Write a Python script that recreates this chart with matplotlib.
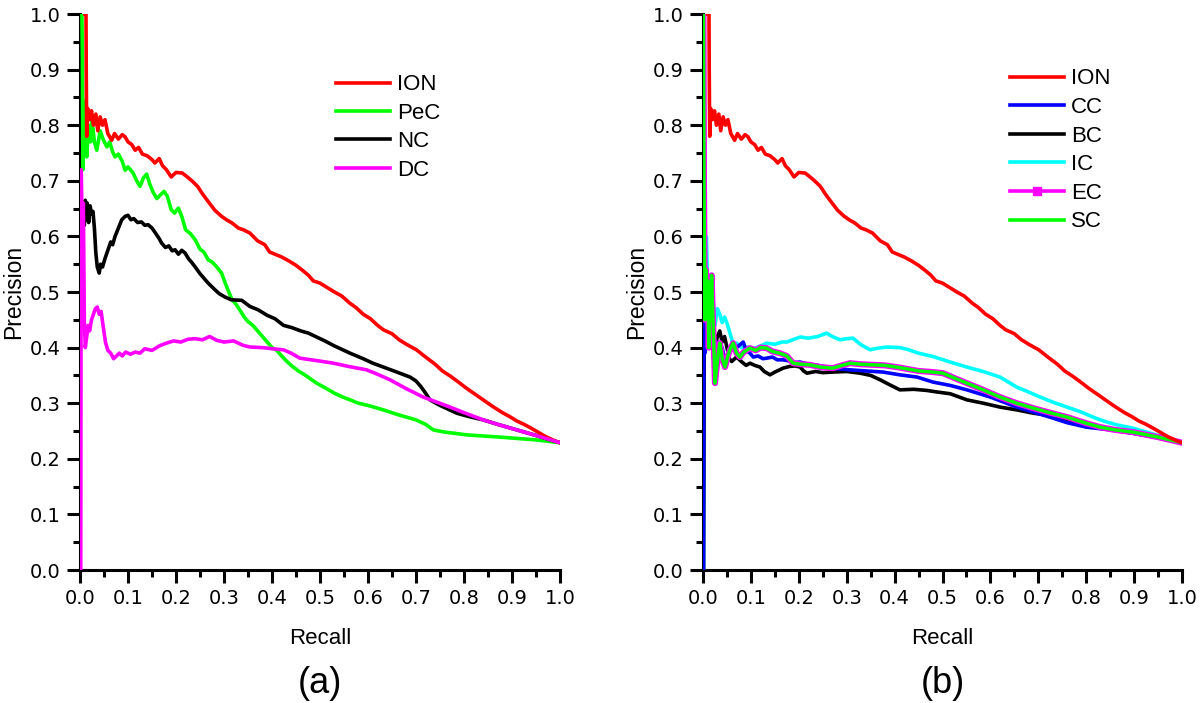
import matplotlib
matplotlib.use("Agg")
import matplotlib.pyplot as plt
from matplotlib.lines import Line2D

plt.rcParams['font.family'] = ['Liberation Sans', 'DejaVu Sans']

# ---------------- data ----------------
ion_r = [0.010, 0.0125, 0.013, 0.014, 0.016, 0.020, 0.024, 0.028, 0.033, 0.037, 0.042, 0.047, 0.052, 0.058,
         0.066, 0.072, 0.080, 0.088, 0.094, 0.100, 0.108, 0.115, 0.122, 0.130, 0.140, 0.150, 0.156, 0.165,
         0.172, 0.180, 0.190, 0.200, 0.213, 0.222, 0.233, 0.245, 0.254, 0.265, 0.281, 0.295, 0.305, 0.317,
         0.330, 0.340, 0.354, 0.370, 0.385, 0.395, 0.406, 0.420, 0.435, 0.450, 0.465, 0.476, 0.486, 0.500,
         0.515, 0.530, 0.545, 0.562, 0.575, 0.590, 0.605, 0.620, 0.632, 0.650, 0.665, 0.680, 0.701, 0.720,
         0.740, 0.755, 0.771, 0.790, 0.805, 0.820, 0.840, 0.860, 0.880, 0.895, 0.910, 0.925, 0.940, 0.958,
         0.970, 0.980, 0.990, 1.000]
ion_p = [1.000, 1.000, 0.900, 0.780, 0.830, 0.810, 0.826, 0.800, 0.820, 0.790, 0.815, 0.800, 0.810, 0.785,
         0.773, 0.785, 0.775, 0.783, 0.779, 0.770, 0.765, 0.755, 0.760, 0.748, 0.745, 0.738, 0.732, 0.740,
         0.727, 0.720, 0.707, 0.715, 0.714, 0.708, 0.700, 0.690, 0.678, 0.665, 0.647, 0.636, 0.630, 0.624,
         0.615, 0.612, 0.606, 0.592, 0.585, 0.572, 0.568, 0.563, 0.556, 0.548, 0.538, 0.530, 0.520, 0.516,
         0.508, 0.500, 0.493, 0.480, 0.472, 0.460, 0.452, 0.440, 0.432, 0.425, 0.414, 0.406, 0.396, 0.383,
         0.370, 0.358, 0.349, 0.337, 0.327, 0.318, 0.306, 0.294, 0.283, 0.276, 0.268, 0.262, 0.255, 0.246,
         0.240, 0.236, 0.232, 0.229]

pec_r = [0.004, 0.005, 0.006, 0.008, 0.010, 0.0125, 0.014, 0.018, 0.022, 0.025, 0.030, 0.035, 0.042, 0.048,
         0.056, 0.062, 0.068, 0.073, 0.080, 0.088, 0.094, 0.100, 0.110, 0.118, 0.125, 0.132, 0.139, 0.145,
         0.152, 0.160, 0.168, 0.175, 0.182, 0.190, 0.197, 0.205, 0.212, 0.220, 0.230, 0.240, 0.250, 0.258,
         0.267, 0.275, 0.285, 0.295, 0.303, 0.310, 0.317, 0.325, 0.335, 0.342, 0.350, 0.360, 0.370, 0.380,
         0.390, 0.400, 0.410, 0.420, 0.430, 0.440, 0.455, 0.470, 0.493, 0.510, 0.530, 0.545, 0.5625, 0.580,
         0.600, 0.632, 0.660, 0.700, 0.720, 0.736, 0.760, 0.806, 0.840, 0.875, 0.920, 0.950, 0.980, 1.000]
pec_p = [1.000, 0.920, 0.720, 0.840, 0.780, 0.845, 0.743, 0.800, 0.770, 0.810, 0.770, 0.755, 0.790, 0.775,
         0.761, 0.770, 0.752, 0.743, 0.748, 0.735, 0.719, 0.725, 0.715, 0.700, 0.690, 0.705, 0.712, 0.695,
         0.680, 0.668, 0.675, 0.681, 0.672, 0.648, 0.642, 0.651, 0.636, 0.612, 0.605, 0.594, 0.577, 0.572,
         0.558, 0.554, 0.545, 0.534, 0.515, 0.500, 0.486, 0.478, 0.465, 0.455, 0.447, 0.440, 0.430, 0.420,
         0.410, 0.400, 0.395, 0.385, 0.376, 0.368, 0.358, 0.350, 0.336, 0.328, 0.318, 0.312, 0.306, 0.300,
         0.296, 0.288, 0.280, 0.270, 0.262, 0.252, 0.248, 0.243, 0.241, 0.239, 0.236, 0.234, 0.231, 0.229]

nc_r = [0.006, 0.007, 0.009, 0.011, 0.013, 0.015, 0.018, 0.021, 0.024, 0.027, 0.030, 0.033, 0.036, 0.040,
        0.043, 0.047, 0.052, 0.058, 0.064, 0.068, 0.073, 0.080, 0.087, 0.094, 0.100, 0.106, 0.112, 0.120,
        0.128, 0.135, 0.142, 0.150, 0.158, 0.165, 0.170, 0.178, 0.185, 0.192, 0.198, 0.205, 0.212, 0.219,
        0.226, 0.233, 0.240, 0.250, 0.258, 0.267, 0.280, 0.290, 0.302, 0.315, 0.337, 0.354, 0.371, 0.390,
        0.406, 0.424, 0.441, 0.460, 0.476, 0.493, 0.510, 0.530, 0.5625, 0.590, 0.610, 0.632, 0.660, 0.6875,
        0.700, 0.710, 0.720, 0.729, 0.750, 0.785, 0.810, 0.840, 0.870, 0.910, 0.950, 0.980, 1.000]
nc_p = [0.550, 0.660, 0.620, 0.665, 0.630, 0.660, 0.625, 0.655, 0.640, 0.645, 0.615, 0.570, 0.545, 0.534,
        0.550, 0.545, 0.560, 0.575, 0.590, 0.585, 0.600, 0.615, 0.630, 0.636, 0.638, 0.630, 0.632, 0.625,
        0.626, 0.620, 0.621, 0.615, 0.605, 0.596, 0.588, 0.580, 0.583, 0.574, 0.576, 0.568, 0.575, 0.570,
        0.560, 0.553, 0.545, 0.533, 0.525, 0.516, 0.505, 0.497, 0.491, 0.486, 0.485, 0.474, 0.468, 0.458,
        0.452, 0.440, 0.436, 0.430, 0.426, 0.419, 0.412, 0.403, 0.390, 0.380, 0.372, 0.365, 0.356, 0.347,
        0.340, 0.330, 0.318, 0.306, 0.296, 0.282, 0.276, 0.270, 0.262, 0.252, 0.242, 0.234, 0.229]

dc_r = [0.0015, 0.0025, 0.005, 0.007, 0.009, 0.011, 0.014, 0.017, 0.020, 0.024, 0.028, 0.032, 0.036, 0.040,
        0.044, 0.048, 0.053, 0.058, 0.064, 0.070, 0.076, 0.082, 0.088, 0.095, 0.105, 0.115, 0.125, 0.135,
        0.150, 0.165, 0.180, 0.195, 0.210, 0.225, 0.240, 0.255, 0.270, 0.285, 0.300, 0.320, 0.340, 0.354,
        0.380, 0.400, 0.424, 0.440, 0.458, 0.490, 0.528, 0.560, 0.597, 0.620, 0.646, 0.680, 0.715, 0.740,
        0.771, 0.800, 0.840, 0.870, 0.910, 0.950, 0.980, 1.000]
dc_p = [0.000, 0.720, 0.600, 0.660, 0.450, 0.400, 0.420, 0.440, 0.430, 0.450, 0.460, 0.470, 0.473, 0.460,
        0.465, 0.440, 0.410, 0.395, 0.390, 0.380, 0.385, 0.390, 0.385, 0.392, 0.388, 0.392, 0.390, 0.398,
        0.395, 0.403, 0.408, 0.412, 0.410, 0.415, 0.416, 0.414, 0.420, 0.413, 0.410, 0.412, 0.404, 0.401,
        0.400, 0.398, 0.396, 0.390, 0.381, 0.377, 0.372, 0.366, 0.360, 0.352, 0.342, 0.326, 0.311, 0.303,
        0.293, 0.283, 0.270, 0.262, 0.252, 0.242, 0.234, 0.229]

cc_r = [0.001, 0.002, 0.004, 0.006, 0.008, 0.010, 0.015, 0.020, 0.025, 0.030, 0.035, 0.040, 0.045, 0.050,
        0.056, 0.063, 0.070, 0.077, 0.084, 0.090, 0.098, 0.105, 0.115, 0.125, 0.133, 0.145, 0.155, 0.167,
        0.180, 0.190, 0.203, 0.220, 0.240, 0.258, 0.280, 0.307, 0.340, 0.376, 0.411, 0.447, 0.480, 0.516,
        0.551, 0.600, 0.655, 0.690, 0.724, 0.760, 0.800, 0.850, 0.898, 0.950, 1.000]
cc_p = [0.000, 0.500, 0.390, 0.450, 0.520, 0.440, 0.430, 0.400, 0.380, 0.410, 0.390, 0.400, 0.380, 0.385,
        0.400, 0.408, 0.400, 0.405, 0.410, 0.395, 0.390, 0.383, 0.385, 0.380, 0.381, 0.383, 0.378, 0.378,
        0.376, 0.373, 0.374, 0.370, 0.368, 0.365, 0.362, 0.360, 0.358, 0.356, 0.351, 0.347, 0.338, 0.332,
        0.324, 0.311, 0.293, 0.284, 0.275, 0.265, 0.257, 0.252, 0.246, 0.238, 0.229]

bc_r = [0.001, 0.003, 0.005, 0.007, 0.010, 0.013, 0.016, 0.020, 0.025, 0.030, 0.035, 0.040, 0.045, 0.050,
        0.055, 0.060, 0.070, 0.080, 0.090, 0.098, 0.108, 0.119, 0.128, 0.140, 0.150, 0.160, 0.167, 0.180,
        0.192, 0.203, 0.210, 0.217, 0.235, 0.250, 0.271, 0.300, 0.328, 0.350, 0.370, 0.390, 0.411, 0.440,
        0.467, 0.490, 0.516, 0.551, 0.585, 0.620, 0.655, 0.690, 0.724, 0.760, 0.800, 0.850, 0.898, 0.950,
        1.000]
bc_p = [0.000, 0.530, 0.480, 0.520, 0.450, 0.480, 0.420, 0.440, 0.400, 0.420, 0.430, 0.410, 0.420, 0.400,
        0.380, 0.375, 0.383, 0.375, 0.368, 0.372, 0.368, 0.365, 0.357, 0.351, 0.356, 0.360, 0.363, 0.366,
        0.367, 0.365, 0.358, 0.354, 0.357, 0.355, 0.356, 0.357, 0.354, 0.350, 0.342, 0.333, 0.324, 0.325,
        0.323, 0.320, 0.317, 0.306, 0.300, 0.293, 0.288, 0.282, 0.278, 0.270, 0.262, 0.253, 0.246, 0.238,
        0.229]

ic_r = [0.001, 0.003, 0.005, 0.007, 0.010, 0.013, 0.016, 0.020, 0.025, 0.030, 0.035, 0.040, 0.045, 0.050,
        0.055, 0.060, 0.063, 0.070, 0.080, 0.092, 0.105, 0.120, 0.133, 0.150, 0.165, 0.175, 0.190, 0.203,
        0.220, 0.240, 0.258, 0.270, 0.286, 0.300, 0.313, 0.330, 0.349, 0.365, 0.384, 0.411, 0.426, 0.450,
        0.480, 0.516, 0.551, 0.585, 0.620, 0.655, 0.680, 0.704, 0.730, 0.760, 0.790, 0.814, 0.840, 0.864,
        0.898, 0.950, 1.000]
ic_p = [0.000, 0.650, 0.550, 0.600, 0.500, 0.530, 0.470, 0.500, 0.440, 0.470, 0.460, 0.445, 0.455, 0.444,
        0.430, 0.415, 0.401, 0.408, 0.400, 0.401, 0.398, 0.403, 0.408, 0.406, 0.410, 0.410, 0.415, 0.419,
        0.417, 0.420, 0.426, 0.420, 0.414, 0.416, 0.417, 0.405, 0.396, 0.399, 0.401, 0.400, 0.397, 0.390,
        0.384, 0.374, 0.365, 0.357, 0.347, 0.329, 0.320, 0.311, 0.302, 0.293, 0.284, 0.275, 0.267, 0.261,
        0.255, 0.242, 0.229]

ec_r = [0.001, 0.002, 0.004, 0.006, 0.008, 0.010, 0.012, 0.014, 0.016, 0.018, 0.020, 0.022, 0.025, 0.028,
        0.032, 0.035, 0.040, 0.046, 0.052, 0.058, 0.063, 0.070, 0.077, 0.085, 0.098, 0.110, 0.120, 0.133,
        0.145, 0.160, 0.175, 0.188, 0.205, 0.223, 0.245, 0.271, 0.290, 0.307, 0.330, 0.355, 0.380, 0.411,
        0.450, 0.480, 0.501, 0.520, 0.551, 0.585, 0.620, 0.655, 0.690, 0.724, 0.760, 0.800, 0.829, 0.860,
        0.898, 0.950, 1.000]
ec_p = [1.000, 0.700, 0.450, 0.540, 0.470, 0.520, 0.400, 0.500, 0.450, 0.530, 0.470, 0.420, 0.336, 0.360,
        0.390, 0.408, 0.380, 0.365, 0.385, 0.400, 0.408, 0.390, 0.383, 0.392, 0.399, 0.395, 0.400, 0.399,
        0.393, 0.390, 0.385, 0.372, 0.370, 0.369, 0.365, 0.363, 0.368, 0.372, 0.370, 0.369, 0.368, 0.364,
        0.358, 0.356, 0.354, 0.347, 0.336, 0.324, 0.311, 0.300, 0.291, 0.283, 0.275, 0.264, 0.257, 0.252,
        0.248, 0.239, 0.229]
sc_r = ec_r
sc_p = ec_p

xticks = [0.0, 0.1, 0.2, 0.3, 0.4, 0.5, 0.6, 0.7, 0.8, 0.9, 1.0]
yticks = [0.0, 0.1, 0.2, 0.3, 0.4, 0.5, 0.6, 0.7, 0.8, 0.9, 1.0]
tick_labels = ['0.0', '0.1', '0.2', '0.3', '0.4', '0.5', '0.6', '0.7', '0.8', '0.9', '1.0']

# ---------------- figure ----------------
W, H = 1200, 703
fig = plt.figure(figsize=(W / 100, H / 100), dpi=100)


def px_axes(x0, x1, ytop, ybot):
    return fig.add_axes([x0 / W, 1 - ybot / H, (x1 - x0) / W, (ybot - ytop) / H])


axA = px_axes(80, 560, 14, 570)
axB = px_axes(703, 1182, 14, 570)

LW = 2.6
for ax, panel in ((axA, '(a)'), (axB, '(b)')):
    ax.set_xlim(0, 1)
    ax.set_ylim(0, 1)
    for s in ('top', 'right'):
        ax.spines[s].set_visible(False)
    for s in ('left', 'bottom'):
        ax.spines[s].set_linewidth(2.2)
    ax.set_xticks(xticks)
    ax.set_xticklabels(tick_labels, family='DejaVu Sans')
    ax.set_yticks(yticks)
    ax.set_yticklabels(tick_labels, family='DejaVu Sans')
    ax.set_xticks([0.05 + 0.1 * i for i in range(10)], minor=True)
    ax.set_yticks([0.05 + 0.1 * i for i in range(10)], minor=True)
    ax.tick_params(which='major', direction='out', length=9.5, width=2.2, labelsize=14, pad=4.5)
    ax.tick_params(which='minor', direction='out', length=5, width=2.2)
    ax.set_xlabel('Recall', fontsize=16, labelpad=14)
    ax.set_ylabel('Precision', fontsize=16.5, labelpad=3)
    ax.text(0.5, -0.205, panel, transform=ax.transAxes, ha='center', va='center', fontsize=26)

# panel (a)
axA.plot(pec_r, pec_p, color='#00ff00', lw=LW, zorder=3)
axA.plot(ion_r, ion_p, color='#ff0000', lw=LW, zorder=4)
axA.plot(nc_r, nc_p, color='black', lw=LW, zorder=3)
axA.plot(dc_r, dc_p, color='#ff00ff', lw=LW, zorder=4)
handlesA = [Line2D([], [], color='#ff0000', lw=LW), Line2D([], [], color='#00ff00', lw=LW),
            Line2D([], [], color='black', lw=LW), Line2D([], [], color='#ff00ff', lw=LW)]
legA = fig.legend(handlesA, ['ION', 'PeC', 'NC', 'DC'], loc='upper left',
                  bbox_to_anchor=(336 / W, 1 - 74.5 / H), frameon=False, fontsize=16,
                  handlelength=2.43, handletextpad=0.3, labelspacing=0.33, borderpad=0, borderaxespad=0)

# panel (b)
axB.plot(ic_r, ic_p, color='#00ffff', lw=LW, zorder=3)
axB.plot(bc_r, bc_p, color='black', lw=LW, zorder=3)
axB.plot(cc_r, cc_p, color='#0000ff', lw=LW, zorder=3)
axB.plot(ec_r, ec_p, color='#ff00ff', lw=4.4, zorder=4)
axB.plot(sc_r, sc_p, color='#00ff00', lw=2.5, zorder=5)
axB.plot(ion_r, ion_p, color='#ff0000', lw=LW, zorder=6)
handlesB = [Line2D([], [], color='#ff0000', lw=LW), Line2D([], [], color='#0000ff', lw=LW),
            Line2D([], [], color='black', lw=LW), Line2D([], [], color='#00ffff', lw=LW),
            Line2D([], [], color='#ff00ff', lw=LW, marker='s', markersize=5.5),
            Line2D([], [], color='#00ff00', lw=LW)]
legB = fig.legend(handlesB, ['ION', 'CC', 'BC', 'IC', 'EC', 'SC'], loc='upper left',
                  bbox_to_anchor=(1010 / W, 1 - 68.5 / H), frameon=False, fontsize=16, numpoints=1,
                  handlelength=2.43, handletextpad=0.3, labelspacing=0.34, borderpad=0, borderaxespad=0)

fig.savefig('out.png', dpi=100)
